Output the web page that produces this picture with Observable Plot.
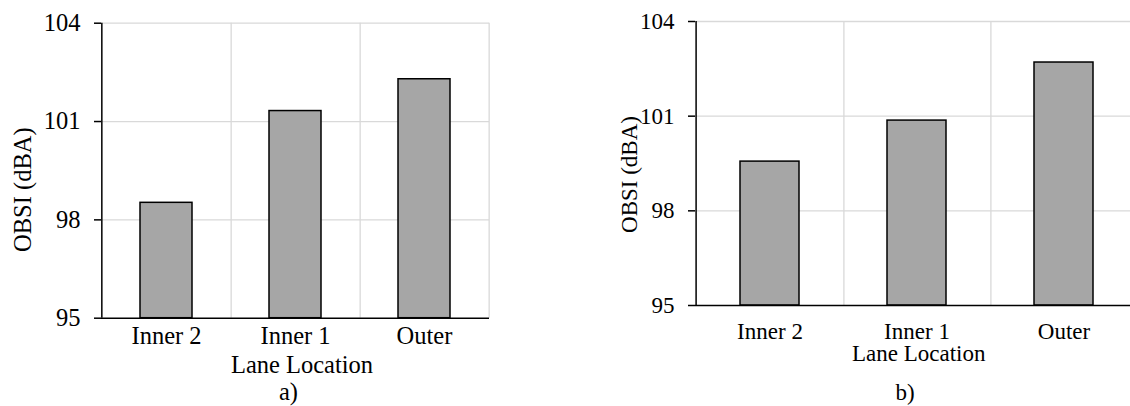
<!DOCTYPE html>
<html>
<head>
<meta charset="utf-8">
<script src="https://cdn.jsdelivr.net/npm/d3@7"></script>
<script src="https://cdn.jsdelivr.net/npm/@observablehq/plot@0.6"></script>
<style>
  html, body { margin: 0; padding: 0; background: #fff; }
  #wrap { position: relative; width: 1130px; height: 406px; overflow: hidden; background: #fff; }
  #wrap svg, #wrap svg text { font-family: "Liberation Serif", "Times New Roman", Times, serif !important; }
</style>
</head>
<body>
<div id="wrap"></div>
<script>
// ---- data ----
const categories = ["Inner 2", "Inner 1", "Outer"];
const valuesA = [98.52, 101.32, 102.29];
const valuesB = [99.56, 100.86, 102.70];
const yTicks = [95, 98, 101, 104];
const yDomain = [95, 104];
const yLabel = "OBSI (dBA)";
const xLabel = "Lane Location";
const captions = ["a)", "b)"];

const FONT = "'Liberation Serif', 'Times New Roman', Times, serif";

function panel(o) {
  const data = categories.map((c, i) => ({lane: c, obsi: o.values[i]}));
  const step = (o.width - o.ml - o.mr) / categories.length;
  const font = o.fs;
  const svg = Plot.plot({
    width: o.width,
    height: o.height,
    marginLeft: o.ml,
    marginRight: o.mr,
    marginTop: o.mt,
    marginBottom: o.mb,
    style: `position:absolute;left:${o.left}px;top:0px;font-size:${font}px;color:#000;background:transparent;overflow:visible;max-width:none;`,
    x: {domain: categories, paddingInner: 0.6, paddingOuter: 0.3, axis: null},
    y: {domain: yDomain, axis: null},
    marks: [
      Plot.ruleY(yTicks.slice(1), {stroke: "#d9d9d9", strokeWidth: 1.3}),
      Plot.ruleX(categories, {x: d => d, dx: step / 2, stroke: "#d9d9d9", strokeWidth: 1.3}),
      Plot.barY(data, {x: "lane", y1: yDomain[0], y2: "obsi", fill: "#a6a6a6", stroke: "#000", strokeWidth: 1.5}),
      Plot.ruleY([yDomain[0]], {stroke: "#000", strokeWidth: 1.5}),
      Plot.ruleX([categories[0]], {x: d => d, dx: -step / 2, stroke: "#000", strokeWidth: 1.5}),
      Plot.axisY({ticks: yTicks, tickSize: 7, tickPadding: 14, strokeWidth: 1.5, fontSize: font, fontFamily: FONT, label: null, tickFormat: d => String(d)}),
      Plot.axisX({tickSize: 0, tickPadding: o.xPad, fontSize: font, fontFamily: FONT, label: null}),
      Plot.text([yLabel], {text: d => d, frameAnchor: "left", textAnchor: "middle", lineAnchor: "middle", rotate: -90, dx: o.ylDx, dy: o.ylDy, fontSize: font, fontFamily: FONT}),
      Plot.text([xLabel], {text: d => d, frameAnchor: "bottom", textAnchor: "middle", lineAnchor: "top", dx: o.xlDx, dy: o.xlDy, fontSize: font, fontFamily: FONT}),
      Plot.text([o.caption], {text: d => d, frameAnchor: "bottom", textAnchor: "middle", lineAnchor: "top", dx: o.capDx, dy: o.capDy, fontSize: font, fontFamily: FONT})
    ]
  });
  return svg;
}

const wrap = document.getElementById("wrap");
wrap.appendChild(panel({
  values: valuesA, left: 0, width: 500, height: 406,
  ml: 101, mr: 11, mt: 22.7, mb: 88.3, fs: 24.5, xPad: 8,
  ylDx: -78, ylDy: 19, xlDx: 6.5, xlDy: 37.4, capDx: -7, capDy: 64, caption: captions[0]
}));
wrap.appendChild(panel({
  values: valuesB, left: 560, width: 600, height: 406,
  ml: 135, mr: 21.6, mt: 21, mb: 101, fs: 23, xPad: 17,
  ylDx: -66, ylDy: 11, xlDx: 1.5, xlDy: 39, capDx: -12, capDy: 78.5, caption: captions[1]
}));
</script>
</body>
</html>
